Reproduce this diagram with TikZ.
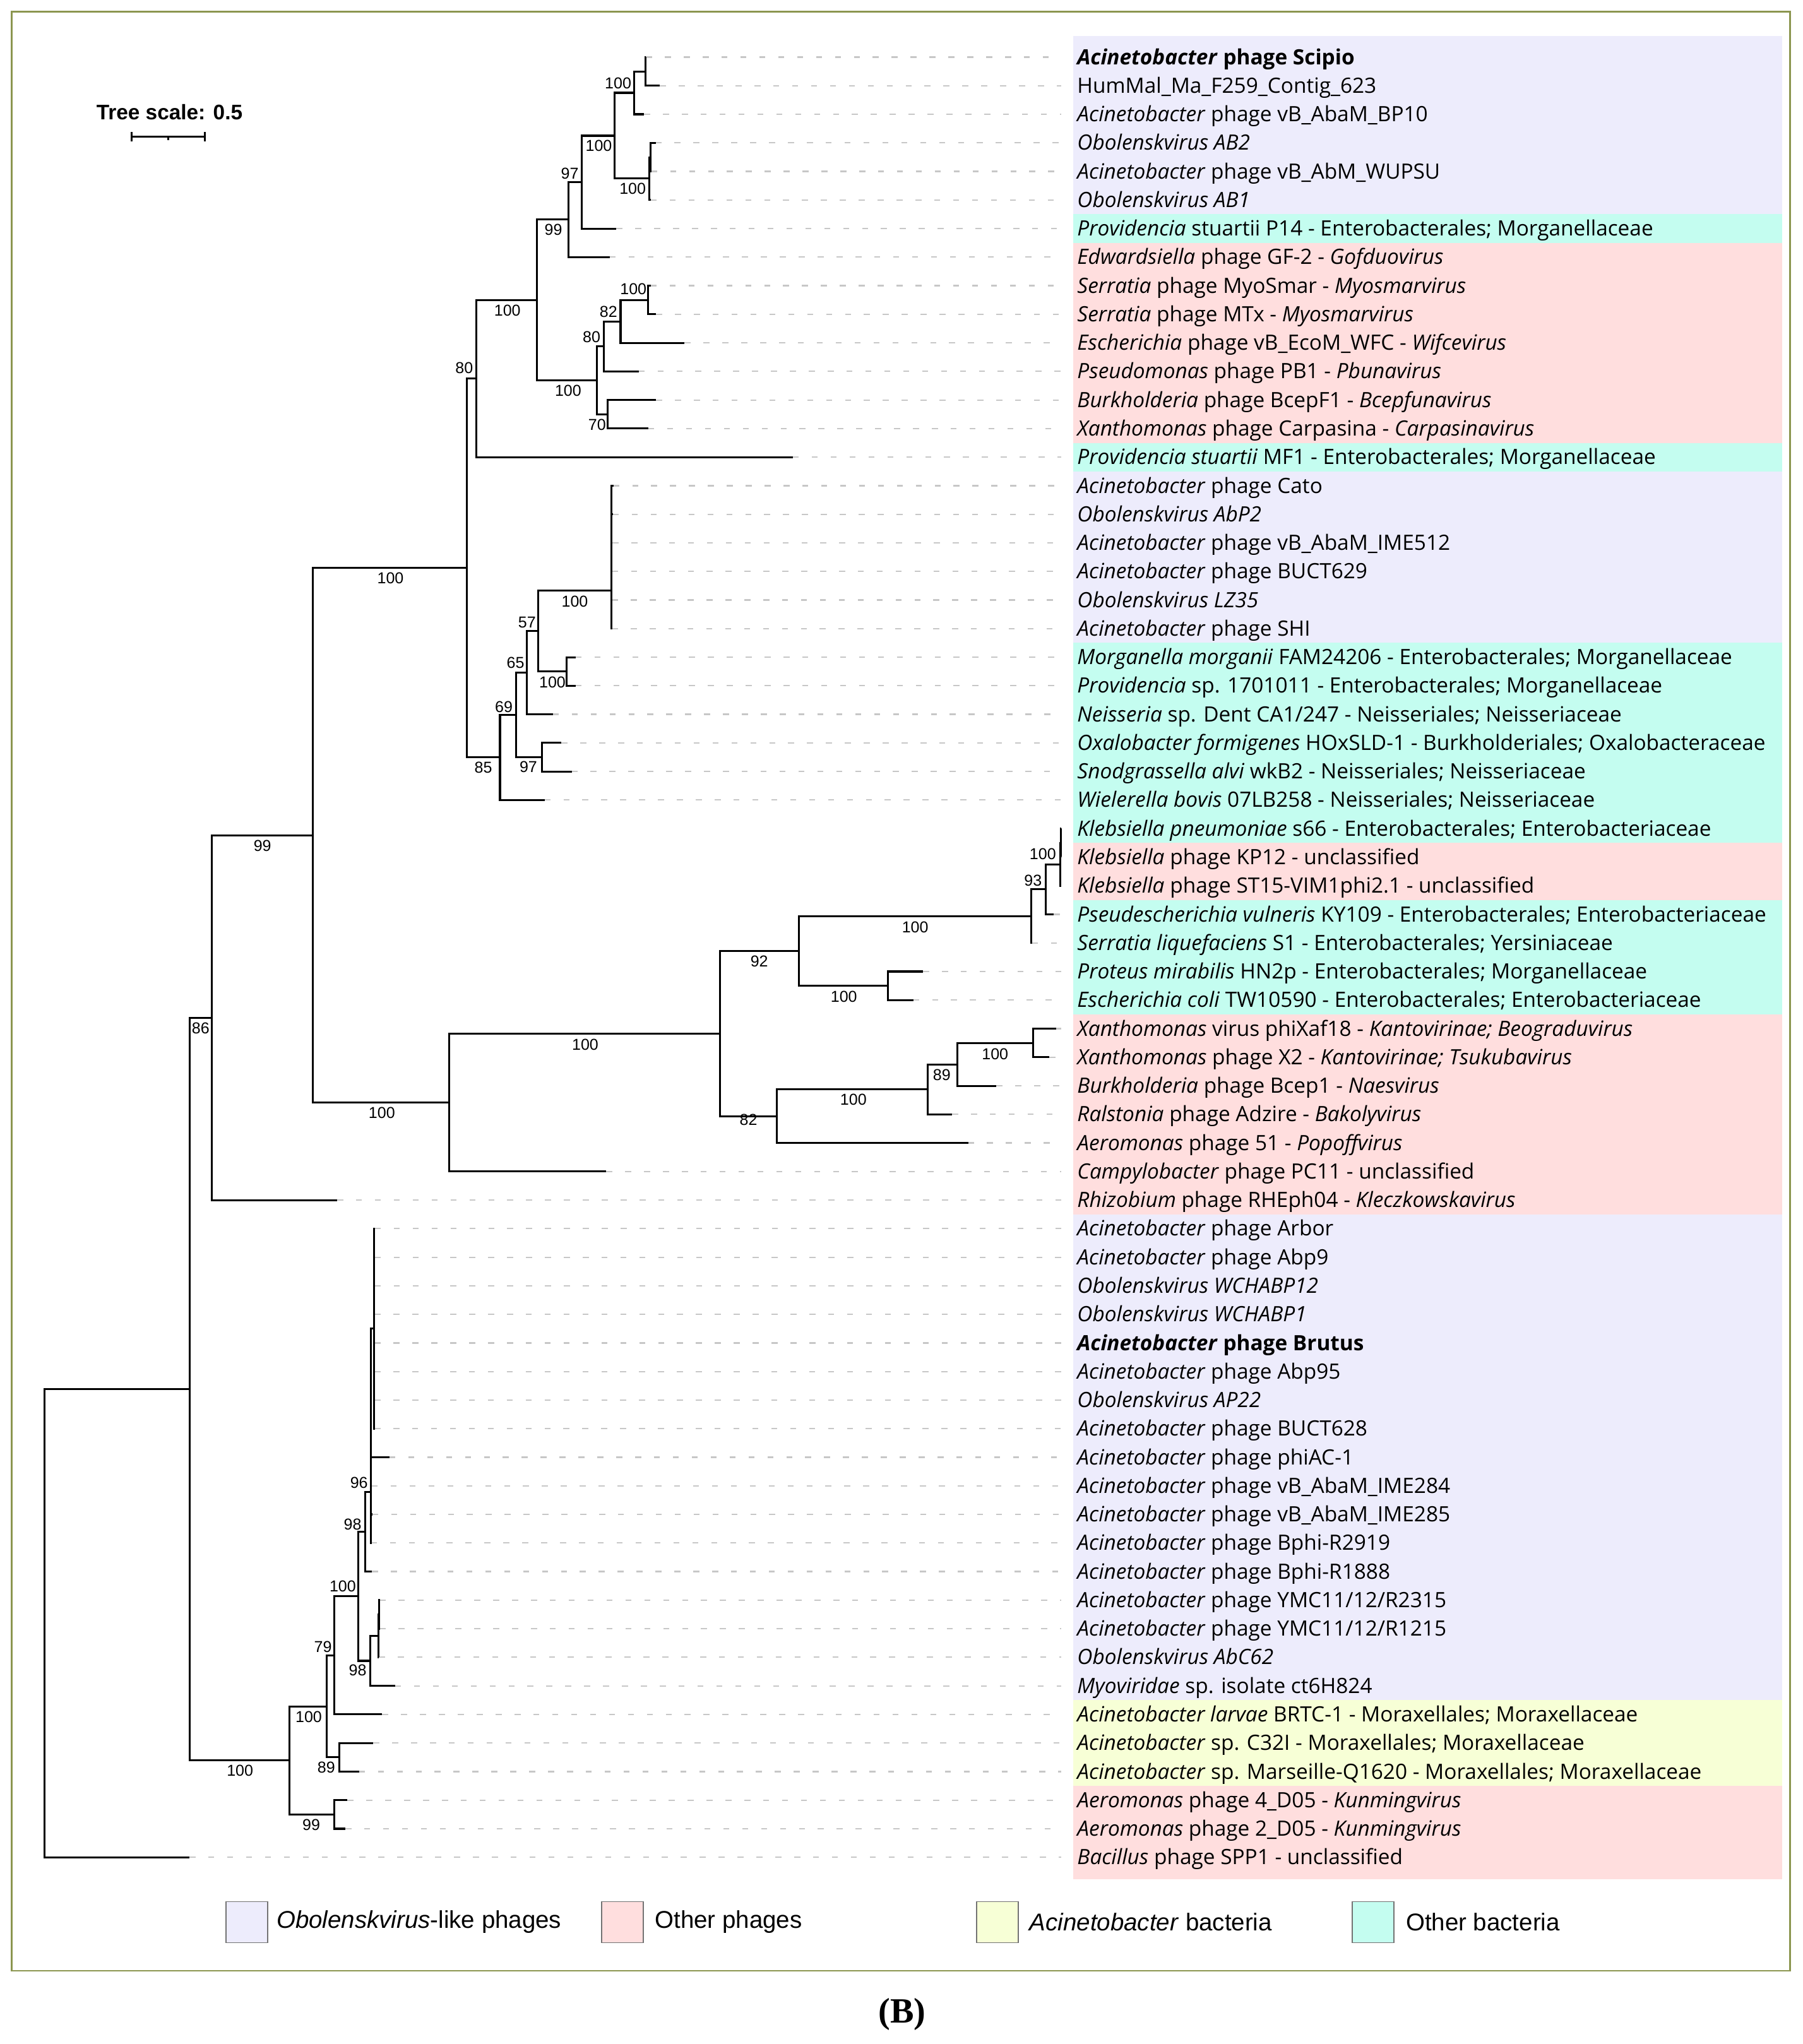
\documentclass[tikz,border=0pt]{standalone}
\usepackage{fontspec}
\setmainfont{Liberation Sans}
\newfontfamily\leaffont{Open Sans}
\newfontfamily\capfont{Liberation Serif}
\usetikzlibrary{positioning}

\definecolor{obolav}{RGB}{237,236,252}
\definecolor{phagepink}{RGB}{255,222,222}
\definecolor{acinyel}{RGB}{247,255,214}
\definecolor{bactcyan}{RGB}{196,253,240}
\definecolor{framegreen}{RGB}{140,150,80}

\tikzset{
  branch/.style={line width=0.85pt, black},
  leader/.style={draw=black!22, line width=0.6pt, dash pattern=on 0.092cm off 0.198cm},
  leaf/.style={anchor=base west, inner sep=0pt, font=\leaffont\fontsize{9.2}{11}\selectfont},
  boot/.style={inner sep=0pt, font=\fontsize{6.9}{8}\selectfont},
  legbox/.style={draw=black!55, line width=0.5pt, minimum width=0.64cm, minimum height=0.63cm, inner sep=0pt},
  legtext/.style={anchor=west, inner sep=0pt, font=\fontsize{10.6}{12}\selectfont},
}

\begin{document}
\begin{tikzpicture}[x=0.02cm, y=-0.02cm]
  \useasboundingbox (0,0) rectangle (1383,1568);
  \draw[framegreen, line width=0.7pt] (9,9) rectangle (1373,1511.8);

  \fill[obolav] (823.4,27.8) rectangle (1367,164.4);
  \fill[bactcyan] (823.4,164.4) rectangle (1367,186.3);
  \fill[phagepink] (823.4,186.3) rectangle (1367,339.7);
  \fill[bactcyan] (823.4,339.7) rectangle (1367,361.6);
  \fill[obolav] (823.4,361.6) rectangle (1367,493.2);
  \fill[bactcyan] (823.4,493.2) rectangle (1367,646.6);
  \fill[phagepink] (823.4,646.6) rectangle (1367,690.4);
  \fill[bactcyan] (823.4,690.4) rectangle (1367,778.1);
  \fill[phagepink] (823.4,778.1) rectangle (1367,931.5);
  \fill[obolav] (823.4,931.5) rectangle (1367,1304.2);
  \fill[acinyel] (823.4,1304.2) rectangle (1367,1370.0);
  \fill[phagepink] (823.4,1370.0) rectangle (1367,1441.5);

  \node[font=\bfseries\fontsize{9.2}{11}\selectfont, inner sep=0pt] (scaletxt) at (130,86) {Tree scale: 0.5};
  \coordinate (sb1) at (100.8,104.9);
  \coordinate (sb2) at (157.0,104.9);
  \coordinate (sbm) at (128.9,104.9);
  \draw[branch] (sb1) -- (sb2);
  \draw[branch] ([yshift=0.07cm]sb1) -- ([yshift=-0.07cm]sb1);
  \draw[branch] ([yshift=0.07cm]sb2) -- ([yshift=-0.07cm]sb2);
  \draw[branch] (sbm) -- ([yshift=-0.05cm]sbm);

  \foreach \tx [count=\i] in {495.5,506.2,494.0,502.9,499.6,499.2,472.8,467.7,499.2,503.2,525.1,489.9,503.2,497.3,608.2,
      470.5,470.2,469.8,469.6,469.5,469.3,441.5,441.5,424.1,430.6,438.5,417.7,813.8,814.2,813.6,808.4,791.6,708.0,700.5,
      810.2,804.9,764.3,730.3,742.6,465.0,258.6,287.6,287.5,287.5,287.4,287.4,287.3,287.3,287.2,298.7,285.2,285.6,284.6,
      285.3,291.3,291.3,290.6,303.1,293.2,286.3,275.4,266.5,264.9,145.3} {
    \coordinate (l\i) at (\tx,{43.8+21.92*(\i-1)});
    \coordinate (e\i) at (814,{43.8+21.92*(\i-1)});
    \draw[leader] (l\i) -- (e\i);
  }

  \foreach \txt [count=\i] in {
    {\textbf{\textit{Acinetobacter} phage Scipio}},
    {HumMal\_Ma\_F259\_Contig\_623},
    {\textit{Acinetobacter} phage vB\_AbaM\_BP10},
    {\textit{Obolenskvirus AB2}},
    {\textit{Acinetobacter} phage vB\_AbM\_WUPSU},
    {\textit{Obolenskvirus AB1}},
    {\textit{Providencia} stuartii P14 - Enterobacterales; Morganellaceae},
    {\textit{Edwardsiella} phage GF-2 - \textit{Gofduovirus}},
    {\textit{Serratia} phage MyoSmar - \textit{Myosmarvirus}},
    {\textit{Serratia} phage MTx - \textit{Myosmarvirus}},
    {\textit{Escherichia} phage vB\_EcoM\_WFC - \textit{Wifcevirus}},
    {\textit{Pseudomonas} phage PB1 - \textit{Pbunavirus}},
    {\textit{Burkholderia} phage BcepF1 - \textit{Bcepfunavirus}},
    {\textit{Xanthomonas} phage Carpasina - \textit{Carpasinavirus}},
    {\textit{Providencia stuartii} MF1 - Enterobacterales; Morganellaceae},
    {\textit{Acinetobacter} phage Cato},
    {\textit{Obolenskvirus AbP2}},
    {\textit{Acinetobacter} phage vB\_AbaM\_IME512},
    {\textit{Acinetobacter} phage BUCT629},
    {\textit{Obolenskvirus LZ35}},
    {\textit{Acinetobacter} phage SHI},
    {\textit{Morganella morganii} FAM24206 - Enterobacterales; Morganellaceae},
    {\textit{Providencia} sp. 1701011 - Enterobacterales; Morganellaceae},
    {\textit{Neisseria} sp. Dent CA1/247 - Neisseriales; Neisseriaceae},
    {\textit{Oxalobacter formigenes} HOxSLD-1 - Burkholderiales; Oxalobacteraceae},
    {\textit{Snodgrassella alvi} wkB2 - Neisseriales; Neisseriaceae},
    {\textit{Wielerella bovis} 07LB258 - Neisseriales; Neisseriaceae},
    {\textit{Klebsiella pneumoniae} s66 - Enterobacterales; Enterobacteriaceae},
    {\textit{Klebsiella} phage KP12 - unclassified},
    {\textit{Klebsiella} phage ST15-VIM1phi2.1 - unclassified},
    {\textit{Pseudescherichia vulneris} KY109 - Enterobacterales; Enterobacteriaceae},
    {\textit{Serratia liquefaciens} S1 - Enterobacterales; Yersiniaceae},
    {\textit{Proteus mirabilis} HN2p - Enterobacterales; Morganellaceae},
    {\textit{Escherichia coli} TW10590 - Enterobacterales; Enterobacteriaceae},
    {\textit{Xanthomonas} virus phiXaf18 - \textit{Kantovirinae; Beograduvirus}},
    {\textit{Xanthomonas} phage X2 - \textit{Kantovirinae; Tsukubavirus}},
    {\textit{Burkholderia} phage Bcep1 - \textit{Naesvirus}},
    {\textit{Ralstonia} phage Adzire - \textit{Bakolyvirus}},
    {\textit{Aeromonas} phage 51 - \textit{Popoffvirus}},
    {\textit{Campylobacter} phage PC11 - unclassified},
    {\textit{Rhizobium} phage RHEph04 - \textit{Kleczkowskavirus}},
    {\textit{Acinetobacter} phage Arbor},
    {\textit{Acinetobacter} phage Abp9},
    {\textit{Obolenskvirus WCHABP12}},
    {\textit{Obolenskvirus WCHABP1}},
    {\textbf{\textit{Acinetobacter} phage Brutus}},
    {\textit{Acinetobacter} phage Abp95},
    {\textit{Obolenskvirus AP22}},
    {\textit{Acinetobacter} phage BUCT628},
    {\textit{Acinetobacter} phage phiAC-1},
    {\textit{Acinetobacter} phage vB\_AbaM\_IME284},
    {\textit{Acinetobacter} phage vB\_AbaM\_IME285},
    {\textit{Acinetobacter} phage Bphi-R2919},
    {\textit{Acinetobacter} phage Bphi-R1888},
    {\textit{Acinetobacter} phage YMC11/12/R2315},
    {\textit{Acinetobacter} phage YMC11/12/R1215},
    {\textit{Obolenskvirus AbC62}},
    {\textit{Myoviridae} sp. isolate ct6H824},
    {\textit{Acinetobacter larvae} BRTC-1 - Moraxellales; Moraxellaceae},
    {\textit{Acinetobacter} sp. C32I - Moraxellales; Moraxellaceae},
    {\textit{Acinetobacter} sp. Marseille-Q1620 - Moraxellales; Moraxellaceae},
    {\textit{Aeromonas} phage 4\_D05 - \textit{Kunmingvirus}},
    {\textit{Aeromonas} phage 2\_D05 - \textit{Kunmingvirus}},
    {\textit{Bacillus} phage SPP1 - unclassified}} {
    \node[leaf] (t\i) at (826,{49.4+21.92*(\i-1)}) {\txt};
  }

  \coordinate (nS) at (495.1,54.75);
  \coordinate (nA) at (486.6,71.2);
  \coordinate (nC1) at (499.0,120.6);
  \coordinate (nC) at (498.1,137.0);
  \coordinate (nB) at (471.4,104.1);
  \coordinate (nD) at (446.2,139.7);
  \coordinate (nE) at (436.1,168.45);
  \coordinate (nK) at (496.9,230.15);
  \coordinate (nJ) at (476.0,246.6);
  \coordinate (nH) at (463.0,265.75);
  \coordinate (nI) at (466.2,317.8);
  \coordinate (nG) at (458.0,291.8);
  \coordinate (nF) at (412.0,230.1);
  \coordinate (nL) at (365.3,290.4);
  \coordinate (nU) at (469.0,453.0);
  \coordinate (nV) at (434.8,515.05);
  \coordinate (nT) at (412.6,484.0);
  \coordinate (nR) at (404.3,516.0);
  \coordinate (nSb) at (415.6,580.85);
  \coordinate (nQ) at (396.0,548.4);
  \coordinate (nP) at (383.5,581.05);
  \coordinate (nM) at (357.9,435.7);
  \coordinate (nAF1) at (813.6,646.6);
  \coordinate (nAF) at (813.4,663.0);
  \coordinate (nAE) at (802.3,682.2);
  \coordinate (nAC) at (791.0,702.75);
  \coordinate (nAD) at (681.3,756.2);
  \coordinate (nAA) at (612.7,729.5);
  \coordinate (nAI) at (792.4,800.05);
  \coordinate (nAH) at (734.3,816.5);
  \coordinate (nAG) at (711.5,835.65);
  \coordinate (nAB) at (595.9,856.2);
  \coordinate (nZ) at (552.5,792.85);
  \coordinate (nW) at (344.4,845.8);
  \coordinate (nN) at (240.1,640.75);
  \coordinate (nX) at (162.6,780.7);
  \coordinate (nBK) at (287.0,1019.2);
  \coordinate (nBJ) at (284.5,1144.7);
  \coordinate (nBG) at (280.0,1175.15);
  \coordinate (nBI1) at (291.0,1238.45);
  \coordinate (nBI) at (290.2,1254.9);
  \coordinate (nBH) at (283.9,1274.05);
  \coordinate (nBF) at (275.0,1224.6);
  \coordinate (nBD) at (256.6,1269.9);
  \coordinate (nBE) at (260.2,1348.05);
  \coordinate (nBB) at (250.7,1309.0);
  \coordinate (nBC) at (256.6,1391.85);
  \coordinate (nBA) at (222.0,1350.4);
  \coordinate (nY) at (145.5,1065.55);
  \coordinate (nRt) at (34.2,1245.2);

  \draw[branch] (nS) |- (l1) (nS) |- (l2);
  \draw[branch] (nA) |- (nS) (nA) |- (l3);
  \draw[branch] (nC1) |- (l4) (nC1) |- (l5);
  \draw[branch] (nC) |- (nC1) (nC) |- (l6);
  \draw[branch] (nB) |- (nA) (nB) |- (nC);
  \draw[branch] (nD) |- (nB) (nD) |- (l7);
  \draw[branch] (nE) |- (nD) (nE) |- (l8);
  \draw[branch] (nK) |- (l9) (nK) |- (l10);
  \draw[branch] (nJ) |- (nK) (nJ) |- (l11);
  \draw[branch] (nH) |- (nJ) (nH) |- (l12);
  \draw[branch] (nI) |- (l13) (nI) |- (l14);
  \draw[branch] (nG) |- (nH) (nG) |- (nI);
  \draw[branch] (nF) |- (nE) (nF) |- (nG);
  \draw[branch] (nL) |- (nF) (nL) |- (l15);
  \draw[branch] (nU) |- (l16) (nU) |- (l17) (nU) |- (l18) (nU) |- (l19) (nU) |- (l20) (nU) |- (l21);
  \draw[branch] (nV) |- (l22) (nV) |- (l23);
  \draw[branch] (nT) |- (nU) (nT) |- (nV);
  \draw[branch] (nR) |- (nT) (nR) |- (l24);
  \draw[branch] (nSb) |- (l25) (nSb) |- (l26);
  \draw[branch] (nQ) |- (nR) (nQ) |- (nSb);
  \draw[branch] (nP) |- (nQ) (nP) |- (l27);
  \draw[branch] (nM) |- (nL) (nM) |- (nP);
  \draw[branch] (nAF1) |- (l28) (nAF1) |- (l29);
  \draw[branch] (nAF) |- (nAF1) (nAF) |- (l30);
  \draw[branch] (nAE) |- (nAF) (nAE) |- (l31);
  \draw[branch] (nAC) |- (nAE) (nAC) |- (l32);
  \draw[branch] (nAD) |- (l33) (nAD) |- (l34);
  \draw[branch] (nAA) |- (nAC) (nAA) |- (nAD);
  \draw[branch] (nAI) |- (l35) (nAI) |- (l36);
  \draw[branch] (nAH) |- (nAI) (nAH) |- (l37);
  \draw[branch] (nAG) |- (nAH) (nAG) |- (l38);
  \draw[branch] (nAB) |- (nAG) (nAB) |- (l39);
  \draw[branch] (nZ) |- (nAA) (nZ) |- (nAB);
  \draw[branch] (nW) |- (nZ) (nW) |- (l40);
  \draw[branch] (nN) |- (nM) (nN) |- (nW);
  \draw[branch] (nX) |- (nN) (nX) |- (l41);
  \foreach \i in {42,...,49} {
    \draw[branch] (nBK) |- (l\i);
  }
  \draw[branch] (nBJ) |- (nBK) (nBJ) |- (l50) (nBJ) |- (l51) (nBJ) |- (l52) (nBJ) |- (l53);
  \draw[branch] (nBG) |- (nBJ) (nBG) |- (l54);
  \draw[branch] (nBI1) |- (l55) (nBI1) |- (l56);
  \draw[branch] (nBI) |- (nBI1) (nBI) |- (l57);
  \draw[branch] (nBH) |- (nBI) (nBH) |- (l58);
  \draw[branch] (nBF) |- (nBG) (nBF) |- (nBH);
  \draw[branch] (nBD) |- (nBF) (nBD) |- (l59);
  \draw[branch] (nBE) |- (l60) (nBE) |- (l61);
  \draw[branch] (nBB) |- (nBD) (nBB) |- (nBE);
  \draw[branch] (nBC) |- (l62) (nBC) |- (l63);
  \draw[branch] (nBA) |- (nBB) (nBA) |- (nBC);
  \draw[branch] (nY) |- (nX) (nY) |- (nBA);
  \draw[branch] (nRt) |- (nY) (nRt) |- (l64);

  \node[boot] (bA) at (474.1,63.7) {100};
  \node[boot] (bB) at (459.3,112.0) {100};
  \node[boot] (bC) at (485.3,144.6) {100};
  \node[boot] (bD) at (437.1,133.0) {97};
  \node[boot] (bE) at (424.5,176.1) {99};
  \node[boot] (bF) at (389.2,238.1) {100};
  \node[boot] (bG) at (435.8,299.6) {100};
  \node[boot] (bH) at (453.8,258.5) {80};
  \node[boot] (bJ) at (466.7,239.1) {82};
  \node[boot] (bK) at (485.8,221.7) {100};
  \node[boot] (bI) at (458.0,325.7) {70};
  \node[boot] (bL) at (356.1,282.2) {80};
  \node[boot] (bM) at (299.5,443.7) {100};
  \node[boot] (bU) at (440.9,461.6) {100};
  \node[boot] (bT) at (404.3,477.3) {57};
  \node[boot] (bR) at (395.4,508.6) {65};
  \node[boot] (bQ) at (386.5,542.1) {69};
  \node[boot] (bP) at (370.7,589.0) {85};
  \node[boot] (bSb) at (405.3,588.4) {97};
  \node[boot] (bV) at (423.7,523.3) {100};
  \node[boot] (bN) at (201.3,648.6) {99};
  \node[boot] (bW) at (292.9,853.9) {100};
  \node[boot] (bX) at (153.9,788.6) {86};
  \node[boot] (bZ) at (448.9,801.6) {100};
  \node[boot] (bAA) at (582.4,737.4) {92};
  \node[boot] (bAC) at (702.0,711.1) {100};
  \node[boot] (bAE) at (792.4,675.6) {93};
  \node[boot] (bAF) at (799.9,655.0) {100};
  \node[boot] (bAD) at (647.3,764.7) {100};
  \node[boot] (bAB) at (574.1,859.0) {82};
  \node[boot] (bAG) at (654.6,843.6) {100};
  \node[boot] (bAH) at (722.4,824.4) {89};
  \node[boot] (bAI) at (763.3,808.6) {100};
  \node[boot] (bBA) at (184.1,1358.2) {100};
  \node[boot] (bBC) at (238.8,1400.1) {99};
  \node[boot] (bBB) at (236.8,1317.2) {100};
  \node[boot] (bBE) at (250.3,1355.9) {89};
  \node[boot] (bBD) at (247.7,1263.5) {79};
  \node[boot] (bBF) at (262.9,1216.7) {100};
  \node[boot] (bBH) at (274.4,1281.2) {98};
  \node[boot] (bBG) at (270.5,1169.2) {98};
  \node[boot] (bBJ) at (275.4,1137.5) {96};

  \node[legbox, fill=obolav] (k1) at (189.4,1474.5) {};
  \node[legtext, right=0.12cm of k1] (k1t) {\textit{Obolenskvirus}-like phages};
  \node[legbox, fill=phagepink] (k2) at (477.6,1474.5) {};
  \node[legtext, right=0.16cm of k2] (k2t) {Other phages};
  \node[legbox, fill=acinyel] (k3) at (765.0,1474.5) {};
  \node[legtext, right=0.16cm of k3] (k3t) {\textit{Acinetobacter} bacteria};
  \node[legbox, fill=bactcyan] (k4) at (1053.2,1474.5) {};
  \node[legtext, right=0.17cm of k4] (k4t) {Other bacteria};

  \node[font=\capfont\bfseries\fontsize{15.5}{18}\selectfont, inner sep=0pt] (panel) at (692,1545) {(B)};
\end{tikzpicture}
\end{document}
